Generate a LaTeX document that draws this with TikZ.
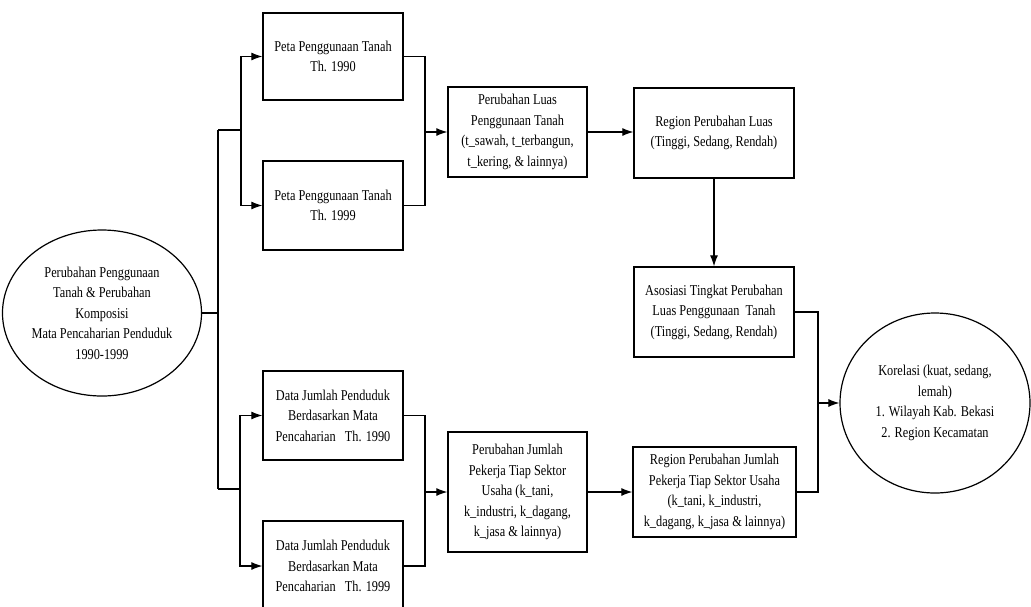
\documentclass[tikz,border=0pt]{standalone}
\usepackage{fontspec}
\setmainfont[FakeStretch=0.82]{Liberation Serif}
\usetikzlibrary{arrows.meta,shapes.geometric}
\begin{document}
\begin{tikzpicture}[x=1pt,y=-1pt,
  font=\fontsize{15}{20.5}\selectfont,
  line width=1.1pt,
  boxnode/.style={draw,line width=1.3pt,rectangle,inner sep=0pt,align=center,minimum width=#1},
  oval/.style={draw,line width=1.2pt,ellipse,inner sep=0pt,align=center},
  conn/.style={line width=1.1pt},
  arr/.style={conn,-{Latex[length=11pt,width=8pt]}}]
\useasboundingbox (0,0) rectangle (1031,606);
\node[oval,minimum width=186pt,minimum height=166pt] (L) at (102,313)
  {Perubahan Penggunaan\\Tanah \& Perubahan\\Komposisi\\Mata Pencaharian Penduduk\\1990-1999};
\node[boxnode=140pt,minimum height=87pt] (b1) at (333,56.5) {Peta Penggunaan Tanah\\Th. 1990};
\node[boxnode=140pt,minimum height=89pt] (b2) at (333,205.5) {Peta Penggunaan Tanah\\Th. 1999};
\node[boxnode=139pt,minimum height=90pt] (b3) at (517.5,132) {Perubahan Luas\\Penggunaan Tanah\\(t\_sawah, t\_terbangun,\\t\_kering, \& lainnya)};
\node[boxnode=160pt,minimum height=90pt] (b4) at (714,133) {Region Perubahan Luas\\(Tinggi, Sedang, Rendah)};
\node[boxnode=160pt,minimum height=90pt] (b5) at (714,312) {Asosiasi Tingkat Perubahan\\Luas Penggunaan~ Tanah\\(Tinggi, Sedang, Rendah)};
\node[boxnode=140pt,minimum height=89pt] (d1) at (333,415.5) {Data Jumlah Penduduk\\Berdasarkan Mata\\Pencaharian~~ Th. 1990};
\node[boxnode=140pt,minimum height=90pt] (d2) at (333,566) {Data Jumlah Penduduk\\Berdasarkan Mata\\Pencaharian~~ Th. 1999};
\node[boxnode=139pt,minimum height=120pt] (b6) at (517.5,492) {Perubahan Jumlah\\Pekerja Tiap Sektor\\Usaha (k\_tani,\\k\_industri, k\_dagang,\\k\_jasa \& lainnya)};
\node[boxnode=163pt,minimum height=90pt] (b7) at (714.5,492) {Region Perubahan Jumlah\\Pekerja Tiap Sektor Usaha\\(k\_tani, k\_industri,\\k\_dagang, k\_jasa \& lainnya)};
\node[oval,minimum width=190pt,minimum height=180pt] (R) at (935,403)
  {Korelasi (kuat, sedang,\\lemah)\\1. Wilayah Kab. Bekasi\\2. Region Kecamatan};
% left tree
\coordinate (vt) at (218,130);
\coordinate (vb) at (218,489);
\coordinate (t) at (241,130);
\coordinate (bb) at (240,489);
\draw[conn] (L.east) -- (L.east -| vt);
\draw[conn] (vt) -- (vb);
\draw[conn] (vt) -- (t);
\draw[conn] (vb) -- (bb);
\draw[arr] (t) |- (b1.west);
\draw[arr] (t) |- (b2.west);
\draw[arr] (bb) |- (d1.west);
\draw[arr] (bb) |- (d2.west);
% merges
\coordinate (m1) at (425,132);
\draw[conn] (b1.east) -| (m1);
\draw[conn] (b2.east) -| (m1);
\draw[arr] (m1) -- (b3.west);
\coordinate (m2) at (425,492);
\draw[conn] (d1.east) -| (m2);
\draw[conn] (d2.east) -| (m2);
\draw[arr] (m2) -- (b6.west);
\draw[arr] (b3.east) -- (b4.west |- b3.east);
\draw[arr] (b4.south) -- (b5.north);
\draw[arr] (b6.east) -- (b7.west);
\coordinate (m3) at (818,403);
\draw[conn] (b5.east) -| (m3);
\draw[conn] (b7.east) -| (m3);
\draw[arr] (m3) -- (R.west |- m3);
\end{tikzpicture}
\end{document}
